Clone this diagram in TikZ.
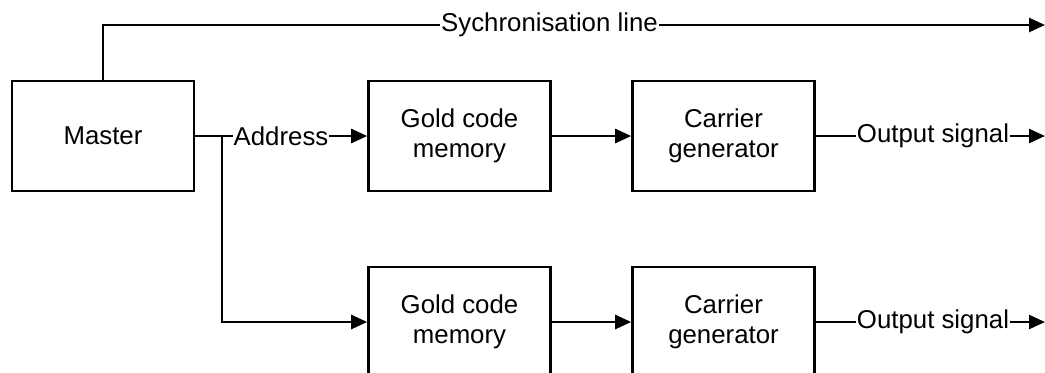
\documentclass[tikz,border=0pt]{standalone}
\usepackage{fontspec}
\setmainfont{Liberation Sans}
\usetikzlibrary{arrows.meta}
\begin{document}
\begin{tikzpicture}[x=0.5pt,y=-0.5pt,
  blk/.style={draw, line width=1.3pt, minimum width=91pt, minimum height=55pt, align=center, inner sep=0pt, font=\fontsize{12.9}{14.8}\selectfont},
  lbl/.style={fill=white, inner sep=0.5pt, font=\fontsize{12.9}{14.8}\selectfont},
  conn/.style={line width=1.3pt},
  arr/.style={conn, -{Triangle[length=8pt,width=7pt]}}]
\useasboundingbox (0,0) rectangle (1045,372);
\begin{scope}
\clip (0,0) rectangle (1045,372);
\node[blk] (master) at (103,136) {Master};
\node[blk] (gold1) at (459.5,136) {Gold code\\memory};
\node[blk] (carr1) at (723.5,136) {Carrier\\generator};
\node[blk] (gold2) at (459.5,322) {Gold code\\memory};
\node[blk] (carr2) at (723.5,322) {Carrier\\generator};
\coordinate (syncc) at (103,25);
\coordinate (syncend) at (1045,25);
\coordinate (br) at (222,136);
\coordinate (brd) at (222,322);
\coordinate (out1) at (1045,136);
\coordinate (out2) at (1045,322);
\draw[arr] (master.north) -- (syncc) -- (syncend);
\draw[arr] (master.east) -- (gold1.west);
\draw[arr] (br) -- (brd) -- (gold2.west);
\draw[arr] (gold1.east) -- (carr1.west);
\draw[arr] (gold2.east) -- (carr2.west);
\draw[arr] (carr1.east) -- (out1);
\draw[arr] (carr2.east) -- (out2);
\node[lbl] (lsync) at (549.5,25) {Sychronisation line};
\node[lbl] (laddr) at (281,136) {Address};
\node[lbl] (lout1) at (933,136) {Output signal};
\node[lbl] (lout2) at (933,322) {Output signal};
\end{scope}
\end{tikzpicture}
\end{document}
